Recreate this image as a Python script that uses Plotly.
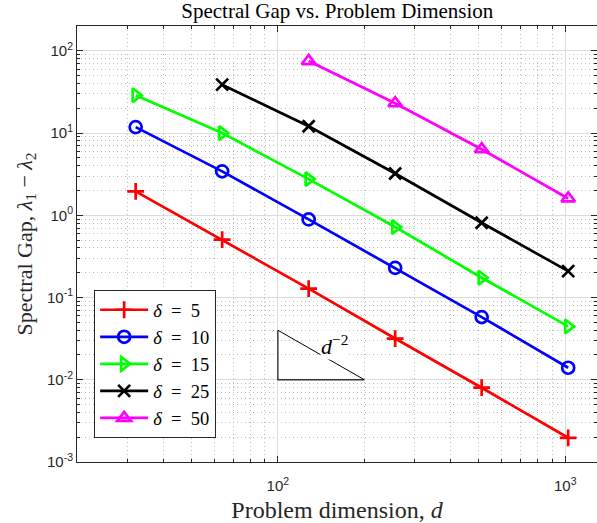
import numpy as np
import plotly.graph_objects as go

# ---- data ----
dims = [32, 64, 128, 256, 512, 1024]
gap_d5 = [1.95, 0.505, 0.128, 0.0317, 0.0080, 0.00197]
gap_d10 = [11.8, 3.42, 0.89, 0.229, 0.0578, 0.0140]
gap_d15 = [28.8, 10.0, 2.75, 0.72, 0.174, 0.0445]
gap_d25 = [38.7, 12.1, 3.22, 0.81, 0.209]
gap_d50 = [75.0, 23.0, 6.35, 1.6]
dims_d25 = dims[1:]
dims_d50 = dims[2:]

tri_x = [100, 100, 200]
tri_y = [0.04, 0.01, 0.01]
hyp_x = [100, 200]
hyp_y = [0.04, 0.01]

x_tick_vals = [100, 1000]
x_tick_text = ["10<sup>2</sup>", "10<sup>3</sup>"]
y_tick_vals = [1e-3, 1e-2, 1e-1, 1, 10, 100]
y_tick_text = ["10<sup>-3</sup>", "10<sup>-2</sup>", "10<sup>-1</sup>",
               "10<sup>0</sup>", "10<sup>1</sup>", "10<sup>2</sup>"]

series = [
    (dims, gap_d5, "5", "#FF0000", "cross-thin-open"),
    (dims, gap_d10, "10", "#0000FF", "circle-open"),
    (dims, gap_d15, "15", "#00FF00", "triangle-right-open"),
    (dims_d25, gap_d25, "25", "#000000", "x-thin-open"),
    (dims_d50, gap_d50, "50", "#FF00FF", "triangle-up-open"),
]

SERIF = "Liberation Serif"
SANS = "Liberation Sans"
AX = "#262626"

fig = go.Figure()
for xs, ys, name, col, sym in series:
    fig.add_trace(go.Scatter(
        x=xs, y=ys, mode="lines+markers",
        name=f"<i>δ</i>&#8194;=&#8194;{name}",
        line=dict(color=col, width=2.7),
        marker=dict(symbol=sym, size=12, color=col, line=dict(color=col, width=2.7)),
    ))

fig.add_trace(go.Scatter(x=tri_x, y=tri_y, mode="lines", showlegend=False,
                         line=dict(color="#333333", width=1.4), hoverinfo="skip"))
fig.add_trace(go.Scatter(x=hyp_x, y=hyp_y, mode="lines", showlegend=False,
                         line=dict(color="#000000", width=1), hoverinfo="skip"))

fig.add_annotation(x=np.log10(158), y=np.log10(0.0262), xref="x", yref="y",
                   text="<i>d</i><sup>−2</sup>", showarrow=False,
                   font=dict(family=SERIF, size=22, color="#000000"),
                   bgcolor="white", borderpad=0)

minor_x = [v * m for v in (10, 100, 1000) for m in range(2, 10) if 20 <= v * m <= 1300]
minor_y = [v * m for v in (1e-3, 1e-2, 1e-1, 1, 10, 100) for m in range(2, 10) if v * m <= 200]

common = dict(
    type="log", showline=True, linecolor=AX, linewidth=1, mirror="allticks",
    ticks="inside", ticklen=6, tickcolor=AX, tickwidth=1,
    showgrid=True, gridcolor="#dcdcdc", gridwidth=1, zeroline=False,
    tickfont=dict(family=SANS, size=15, color=AX),
)
minor_common = dict(ticks="inside", ticklen=3, tickcolor=AX, showgrid=True,
                    gridcolor="#bdbdbd", griddash="1px,3px", gridwidth=1)

fig.update_xaxes(
    **common, range=[np.log10(20), np.log10(1290)],
    tickmode="array", tickvals=x_tick_vals, ticktext=x_tick_text,
    ticklabelstandoff=10,
    minor=dict(tickmode="array", tickvals=minor_x, **minor_common),
    title=dict(text="Problem dimension, <i>d</i>", font=dict(family=SERIF, size=24, color=AX),
               standoff=8),
)
fig.update_yaxes(
    **common, range=[-3, np.log10(200)],
    tickmode="array", tickvals=y_tick_vals, ticktext=y_tick_text,
    minor=dict(tickmode="array", tickvals=minor_y, **minor_common),
    title=dict(text="Spectral Gap, <i>λ</i><sub>1</sub> − <i>λ</i><sub>2</sub>",
               font=dict(family=SERIF, size=22, color=AX), standoff=8),
)

fig.update_layout(
    width=597, height=523,
    margin=dict(l=77, r=0, t=26, b=61, autoexpand=False),
    paper_bgcolor="white", plot_bgcolor="white",
    title=dict(text="Spectral Gap vs. Problem Dimension", x=0.565, xanchor="center",
               y=0.979, yanchor="middle", font=dict(family=SERIF, size=21, color="#000000")),
    legend=dict(x=0.033, y=0.394, xanchor="left", yanchor="top",
                bgcolor="white", bordercolor=AX, borderwidth=1,
                font=dict(family=SERIF, size=18.5, color="#000000"),
                tracegroupgap=0, itemwidth=48),
    showlegend=True,
)

fig.write_html("out.html")
